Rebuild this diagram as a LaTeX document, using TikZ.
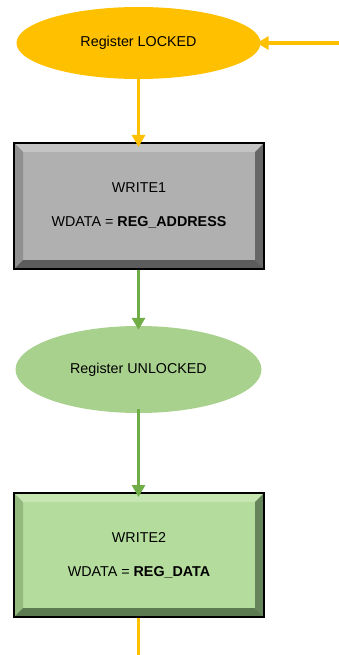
\documentclass[tikz,border=0pt]{standalone}
\usepackage{fontspec}
\setmainfont{Liberation Sans}
\usetikzlibrary{shapes.geometric,arrows.meta}

\definecolor{gold}{HTML}{FFC000}
\definecolor{leaf}{HTML}{70AD47}
\definecolor{leaflight}{HTML}{A9D18E}
% bevel palettes: face, top, left, right, bottom
\definecolor{gface}{HTML}{B0B0B0}
\definecolor{gtop}{HTML}{C4C4C4}
\definecolor{gleft}{HTML}{909090}
\definecolor{gright}{HTML}{676767}
\definecolor{gbottom}{HTML}{5C5C5C}
\definecolor{lface}{HTML}{B4DC9C}
\definecolor{ltop}{HTML}{C6E6B1}
\definecolor{lleft}{HTML}{94BA7F}
\definecolor{lright}{HTML}{65845A}
\definecolor{lbottom}{HTML}{5D7B50}

\tikzset{
  txt/.style={font=\fontsize{14.3}{17}\selectfont, text=black},
  state/.style={ellipse, draw=none, inner sep=0pt, txt},
  flow/.style={line width=3.4pt, shorten >=-4pt,
    -{Triangle[length=12pt, width=13pt]}},
}

% bevelled box: #1,#2 = top-left; #3,#4 = bottom-right; #5 = palette prefix
\newcommand{\bevelbox}[5]{%
  \fill[#5face] (#1,#2) rectangle (#3,#4);
  \fill[#5top] (#1,#2) -- (#3,#2) -- (#3-9,#2+9) -- (#1+9,#2+9) -- cycle;
  \fill[#5left] (#1,#2) -- (#1+9,#2+9) -- (#1+9,#4-9) -- (#1,#4) -- cycle;
  \fill[#5right] (#3,#2) -- (#3,#4) -- (#3-9,#4-9) -- (#3-9,#2+9) -- cycle;
  \fill[#5bottom] (#1,#4) -- (#1+9,#4-9) -- (#3-9,#4-9) -- (#3,#4) -- cycle;
  \draw[black, line width=2pt] (#1,#2) rectangle (#3,#4);
}

\begin{document}
\begin{tikzpicture}[x=1pt, y=-1pt]
  \useasboundingbox (0,0) rectangle (339,655);

  % states
  \node[state, fill=gold, minimum width=244pt, minimum height=72pt] (locked) at (138.5,43) {Register LOCKED};
  \node[state, fill=leaflight, minimum width=246pt, minimum height=87pt] (unlocked) at (138.5,369.5) {Register UNLOCKED};

  % write steps
  \bevelbox{14}{143}{264}{269}{g}
  \node[txt] (w1) at (139,188) {WRITE1};
  \node[txt] (w1d) at (139,222) {WDATA = \textbf{REG\_ADDRESS}};
  \coordinate (w1top) at (138.5,143);
  \coordinate (w1bot) at (138.5,270);

  \bevelbox{14}{493}{264}{617}{l}
  \node[txt] (w2) at (139,538) {WRITE2};
  \node[txt] (w2d) at (139,572) {WDATA = \textbf{REG\_DATA}};
  \coordinate (w2top) at (138.5,493);
  \coordinate (w2bot) at (138.5,618);

  % connectors
  \coordinate (entry) at (339,43);
  \coordinate (exit) at (138.5,655);
  \draw[flow, gold] (entry) -- (locked.east);
  \draw[flow, gold] (locked.south) -- (w1top);
  \draw[flow, leaf] (w1bot) -- (unlocked.north);
  \draw[flow, leaf] ([yshift=4pt]unlocked.south) -- (w2top);
  \draw[gold, line width=3.4pt] (w2bot) -- (exit);
\end{tikzpicture}
\end{document}
